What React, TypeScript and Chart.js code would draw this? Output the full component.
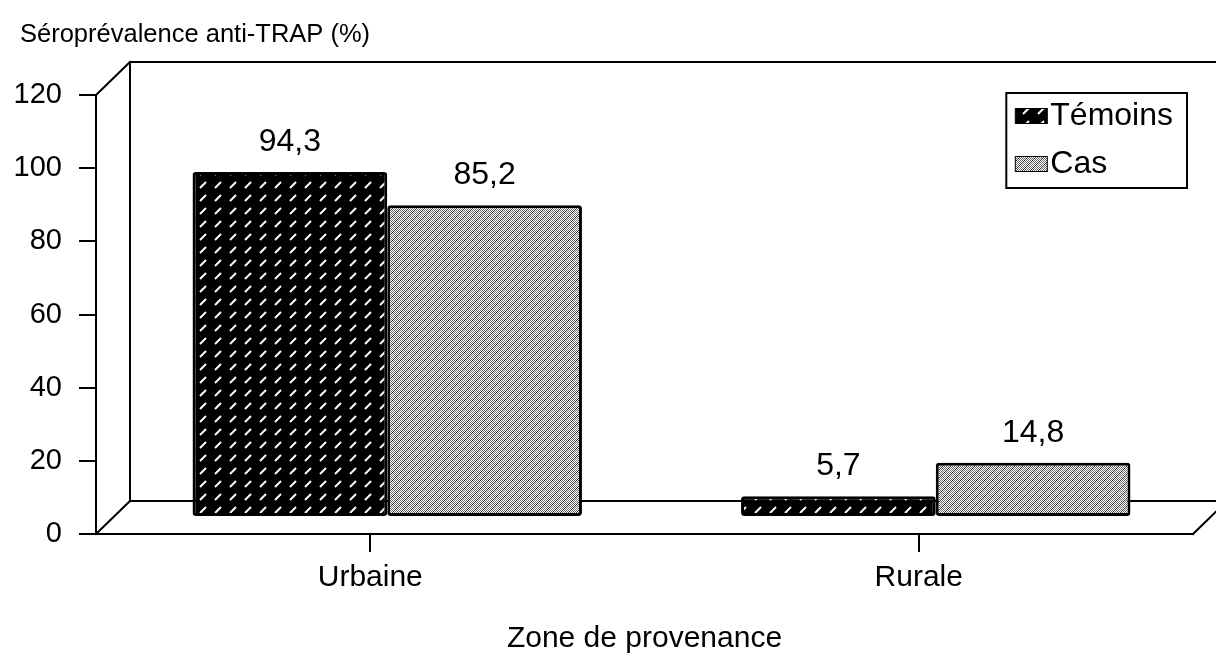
import React, { useEffect, useRef } from 'react';
import { Chart, registerables } from 'chart.js';

Chart.register(...registerables);

// ---- data ----
const categories = ['Urbaine', 'Rurale'];
const seriesNames = ['Témoins', 'Cas'];
const temoinsValues = [94.3, 5.7];
const casValues = [85.2, 14.8];
const yTickValues = [0, 20, 40, 60, 80, 100, 120];
const chartTitle = 'Séroprévalence anti-TRAP (%)';
const xAxisTitle = 'Zone de provenance';

const FONT = '"Liberation Sans", Arial, Helvetica, sans-serif';
const DEPTH_X = 34;
const DEPTH_Y = 33;
const BAR_DX = 17;
const BAR_DY = 17;

function makeTemoinsPattern(): CanvasPattern | string {
  const c = document.createElement('canvas');
  c.width = 15;
  c.height = 13;
  const g = c.getContext('2d');
  if (!g) return '#000';
  g.fillStyle = '#000';
  g.fillRect(0, 0, 15, 13);
  g.strokeStyle = '#fff';
  g.lineWidth = 2;
  g.lineCap = 'butt';
  g.beginPath();
  g.moveTo(3, 10);
  g.lineTo(9, 4);
  g.stroke();
  const p = g.createPattern(c, 'repeat');
  return p || '#000';
}

function makeCasPattern(): CanvasPattern | string {
  const c = document.createElement('canvas');
  c.width = 8;
  c.height = 8;
  const g = c.getContext('2d');
  if (!g) return '#bbb';
  g.fillStyle = '#fff';
  g.fillRect(0, 0, 8, 8);
  for (let x = 0; x < 8; x++) {
    for (let y = 0; y < 8; y++) {
      if ((x + y) % 2 === 0) {
        g.fillStyle = (x + y) % 8 === 0 ? '#2a2a2a' : '#707070';
        g.fillRect(x, y, 1, 1);
      }
    }
  }
  const p = g.createPattern(c, 'repeat');
  return p || '#bbb';
}

export default function App() {
  const ref = useRef<HTMLCanvasElement | null>(null);

  useEffect(() => {
    const canvas = ref.current;
    if (!canvas) return;
    const temoinsFill = makeTemoinsPattern();
    const casFill = makeCasPattern();
    const fills = [temoinsFill, casFill];

    const framePlugin = {
      id: 'frame3d',
      beforeDatasetsDraw(chart: any) {
        const { ctx, chartArea, scales } = chart;
        const ys = scales.y;
        const L = chartArea.left;
        const R = chartArea.right;
        const y0 = ys.getPixelForValue(0);
        const yT = ys.getPixelForValue(120);
        ctx.save();
        ctx.strokeStyle = '#000';
        ctx.lineWidth = 2;
        ctx.lineCap = 'square';
        const seg = (a: number, b: number, c: number, d: number) => {
          ctx.beginPath();
          ctx.moveTo(a, b);
          ctx.lineTo(c, d);
          ctx.stroke();
        };
        seg(L, yT, L, y0);
        seg(L + DEPTH_X, yT - DEPTH_Y, L + DEPTH_X, y0 - DEPTH_Y);
        seg(L, yT, L + DEPTH_X, yT - DEPTH_Y);
        seg(L, y0, L + DEPTH_X, y0 - DEPTH_Y);
        seg(L + DEPTH_X, yT - DEPTH_Y, R + DEPTH_X, yT - DEPTH_Y);
        seg(L + DEPTH_X, y0 - DEPTH_Y, R + DEPTH_X, y0 - DEPTH_Y);
        seg(L, y0, R, y0);
        seg(R, y0, R + DEPTH_X, y0 - DEPTH_Y);
        ctx.restore();
        ctx.save();
        ctx.translate(BAR_DX, -BAR_DY);
      },
      afterDatasetsDraw(chart: any) {
        const { ctx } = chart;
        ctx.restore();
        ctx.save();
        ctx.fillStyle = '#000';
        ctx.font = `32px ${FONT}`;
        ctx.textAlign = 'center';
        ctx.textBaseline = 'middle';
        chart.data.datasets.forEach((ds: any, i: number) => {
          const meta = chart.getDatasetMeta(i);
          meta.data.forEach((el: any, j: number) => {
            const v = ds.data[j] as number;
            const txt = v.toFixed(1).replace('.', ',');
            ctx.fillText(txt, el.x + BAR_DX, el.y - BAR_DY - 30);
          });
        });
        ctx.restore();
      },
      afterDraw(chart: any) {
        const { ctx, chartArea } = chart;
        ctx.save();
        // chart title
        ctx.fillStyle = '#000';
        ctx.font = `25.5px ${FONT}`;
        ctx.textAlign = 'left';
        ctx.textBaseline = 'middle';
        ctx.fillText(chartTitle, 20, 35);
        // legend
        ctx.font = `32px ${FONT}`;
        const labels = chart.data.datasets.map((d: any) => d.label as string);
        const maxW = Math.max(...labels.map((l: string) => ctx.measureText(l).width));
        const swW = 32;
        const swH = 15;
        const boxW = 9 + swW + 3 + maxW + 14;
        const boxH = 95;
        const boxR = chartArea.right - 6;
        const boxL = boxR - boxW;
        const boxT = chartArea.top - 2;
        ctx.fillStyle = '#fff';
        ctx.fillRect(boxL, boxT, boxW, boxH);
        ctx.strokeStyle = '#000';
        ctx.lineWidth = 2;
        ctx.strokeRect(boxL, boxT, boxW, boxH);
        labels.forEach((lab: string, i: number) => {
          const cy = boxT + 23 + i * 48;
          ctx.fillStyle = fills[i] as any;
          ctx.fillRect(boxL + 9, cy - swH / 2, swW, swH);
          ctx.strokeStyle = '#000';
          ctx.lineWidth = 1;
          ctx.strokeRect(boxL + 9, cy - swH / 2, swW, swH);
          ctx.fillStyle = '#000';
          ctx.textAlign = 'left';
          ctx.textBaseline = 'middle';
          ctx.fillText(lab, boxL + 9 + swW + 3, cy);
        });
        ctx.restore();
      },
    };

    const chart = new Chart(canvas, {
      type: 'bar',
      data: {
        labels: categories,
        datasets: [
          {
            label: seriesNames[0],
            data: temoinsValues,
            backgroundColor: temoinsFill as any,
            borderColor: '#000',
            borderWidth: 3,
            borderSkipped: false,
            borderRadius: 3,
            barPercentage: 1,
            categoryPercentage: 0.71,
            clip: false as any,
          },
          {
            label: seriesNames[1],
            data: casValues,
            backgroundColor: casFill as any,
            borderColor: '#000',
            borderWidth: 3,
            borderSkipped: false,
            borderRadius: 3,
            barPercentage: 1,
            categoryPercentage: 0.71,
            clip: false as any,
          },
        ],
      },
      options: {
        responsive: false,
        animation: false,
        layout: { padding: { left: 0, right: 23, top: 95, bottom: 0 } },
        plugins: {
          legend: { display: false },
          tooltip: { enabled: false },
          title: { display: false },
        },
        scales: {
          x: {
            type: 'category',
            offset: true,
            border: { display: false },
            grid: {
              offset: false,
              drawOnChartArea: false,
              drawTicks: true,
              tickLength: 18,
              color: '#000',
              lineWidth: 2,
            },
            ticks: {
              color: '#000',
              padding: 8,
              font: { family: FONT, size: 30 },
              maxRotation: 0,
            },
            title: {
              display: true,
              text: xAxisTitle,
              color: '#000',
              font: { family: FONT, size: 30 },
              padding: { top: 0, bottom: 0 },
            },
            afterFit: (s: any) => {
              s.height = 123;
            },
          },
          y: {
            min: 0,
            max: 120,
            border: { display: false },
            grid: {
              drawOnChartArea: false,
              drawTicks: true,
              tickLength: 17,
              color: '#000',
              lineWidth: 2,
            },
            ticks: {
              color: '#000',
              padding: 17,
              font: { family: FONT, size: 29 },
            },
            afterBuildTicks: (s: any) => {
              s.ticks = yTickValues.map((v) => ({ value: v }));
            },
            afterFit: (s: any) => {
              s.width = 96;
            },
          },
        },
      },
      plugins: [framePlugin],
    });

    return () => {
      chart.destroy();
    };
  }, []);

  return (
    <div style={{ position: 'fixed', left: 0, top: 0, width: 1216, height: 657, background: '#fff' }}>
      <canvas ref={ref} width={1216} height={657} style={{ display: 'block' }} />
    </div>
  );
}
